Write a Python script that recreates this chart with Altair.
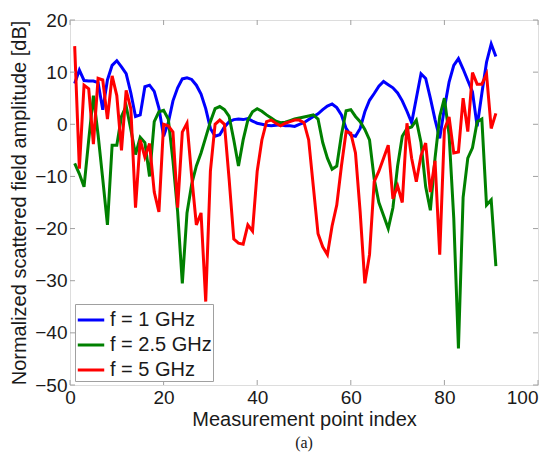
import altair as alt
import pandas as pd

idx = list(range(1, 92))

blue = [7.8, 10.4, 8.4, 8.3, 8.3, 8.0, 2.8, 8.5, 11.3, 12.2,
        11.0, 9.7, 6.0, 1.5, 1.8, 7.2, 7.5, 6.3, 3.1, -2.3,
        0.3, 4.5, 7.0, 8.7, 8.9, 8.6, 7.5, 5.8, 3.0, -0.8,
        -2.3, -2.0, -0.5, 0.5, 0.9, 1.0, 0.9, 1.1, 0.6, 0.2,
        0.0, -0.2, -0.3, -0.2, -0.1, -0.3, -0.3, -0.4, 0.0, 0.3,
        0.9, 1.5, 2.0, 2.8, 3.5, 3.9, 3.2, 1.8, -0.8, -2.1,
        -2.3, -0.8, 2.4, 4.6, 5.9, 7.3, 8.2, 7.6, 7.0, 6.0,
        4.5, 2.5, 0.3, 5.0, 9.7, 8.8, 5.0, 0.9, -2.7, 3.1,
        8.1, 11.3, 12.6, 10.6, 8.4, 6.2, -0.4, 5.9, 11.9, 15.4,
        13.0]

green = [-7.5, -9.5, -12.0, -3.0, 5.5, -2.0, -10.5, -19.3, -4.0, -4.0,
         1.5, 3.5, -1.0, -5.8, -2.5, -3.5, -10.0, 0.5, 2.4, 2.7,
         1.0, -7.0, -16.8, -30.5, -17.0, -11.5, -8.0, -5.5, -2.5, 0.5,
         3.0, 3.4, 2.8, 1.5, -3.0, -8.0, -3.0, 0.8, 2.4, 3.0,
         2.5, 1.8, 1.2, 0.6, 0.3, 0.4, 0.7, 1.0, 1.2, 1.4,
         1.6, 1.8, 1.0, -3.5, -6.5, -8.6, -8.0, -2.0, 2.6, 2.8,
         1.5, 0.5, -1.0, -3.0, -10.5, -15.0, -17.5, -20.0, -16.0, -8.0,
         -2.3, -0.8, -0.5, 0.8, -3.5, -12.0, -16.5, -6.5, 1.5, 5.0,
         -2.0, -18.0, -43.0, -14.0, -6.5, -4.5, 0.5, 1.0, -15.5, -14.5,
         -27.2]

red = [15.0, -8.5, 7.5, 6.8, -3.8, 8.8, 8.5, 1.0, 9.3, 5.5,
       -5.0, 6.5, 3.0, -16.0, -3.0, -6.3, -3.7, -13.0, -16.8, 0.0,
       -0.3, -1.5, -16.0, -1.5, 0.2, -10.0, -19.3, -17.0, -34.0, -9.0,
       0.0, 0.8, 0.0, -10.5, -22.0, -22.8, -23.0, -19.3, -20.5, -9.0,
       -3.0, 0.5, 0.8, 0.2, -0.3, 0.2, 0.5, 0.8, 0.8, 0.3,
       -3.0, -12.0, -21.0, -23.5, -25.0, -19.5, -15.5, -8.0, -1.4, -1.7,
       -5.5, -16.8, -30.5, -25.0, -11.0, -9.0, -6.5, -4.0, -14.3, -11.8,
       -15.0, 0.2, -6.5, -11.0, -6.0, -3.6, -13.0, -7.0, -25.0, -1.0,
       1.4, -5.5, -5.3, 5.0, -1.4, 9.9, 7.7, 7.7, 9.6, -0.8,
       2.1]

series_names = ["f = 1 GHz", "f = 2.5 GHz", "f = 5 GHz"]
series_colors = ["#0000ff", "#008000", "#ff0000"]
x_ticks = [0, 20, 40, 60, 80, 100]
y_ticks = [-50, -40, -30, -20, -10, 0, 10, 20]

W, H = 468, 365
FONT = "Liberation Sans"

rows = []
for name, vals in zip(series_names, [blue, green, red]):
    for i, v in zip(idx, vals):
        rows.append({"idx": i, "val": v, "series": name})
df = pd.DataFrame(rows)

xscale = alt.Scale(domain=[0, 100], nice=False, zero=False)
yscale = alt.Scale(domain=[-50, 20], nice=False, zero=False)

xaxis = alt.Axis(values=x_ticks, title="Measurement point index",
                 grid=False, ticks=False, domain=False,
                 labelFontSize=19, labelFont=FONT, labelColor="#1a1a1a",
                 labelPadding=3, titleFont=FONT, titleFontSize=20,
                 titleFontWeight="normal", titleColor="#1a1a1a",
                 titlePadding=2, labelFlush=False,
                 labelAlign={"condition": {"test": "datum.value === 100",
                                           "value": "right"},
                             "value": "center"})
yaxis = alt.Axis(values=y_ticks,
                 title="Normalized scattered field amplitude [dB]",
                 grid=False, ticks=False, domain=False,
                 labelFontSize=19, labelFont=FONT, labelColor="#1a1a1a",
                 labelPadding=3, titleFont=FONT, titleFontSize=20,
                 titleFontWeight="normal", titleColor="#1a1a1a",
                 titlePadding=5, labelFlush=False)

lines = alt.Chart(df).mark_line(strokeWidth=3, clip=True).encode(
    x=alt.X("idx:Q", scale=xscale, axis=xaxis),
    y=alt.Y("val:Q", scale=yscale, axis=yaxis),
    color=alt.Color("series:N",
                    scale=alt.Scale(domain=series_names, range=series_colors),
                    legend=alt.Legend(title=None, orient="none", legendX=5,
                                      legendY=284, strokeColor="#a0a0a0",
                                      fillColor="white", padding=1,
                                      symbolType="stroke", symbolStrokeWidth=3,
                                      symbolSize=700, labelFontSize=20,
                                      labelFont=FONT, labelColor="#1a1a1a",
                                      rowPadding=0, labelOffset=4,
                                      cornerRadius=0)),
    order=alt.Order("idx:Q"),
)

xt = pd.DataFrame({"t": x_ticks})
yt = pd.DataFrame({"t": y_ticks})
tick_color = "#a0a0a0"

xb = alt.Chart(xt).mark_rule(color=tick_color).encode(
    x=alt.X("t:Q", scale=xscale, axis=xaxis), y=alt.value(H), y2=alt.value(H - 5))
xtop = alt.Chart(xt).mark_rule(color=tick_color).encode(
    x=alt.X("t:Q", scale=xscale, axis=xaxis), y=alt.value(0), y2=alt.value(5))
yl = alt.Chart(yt).mark_rule(color=tick_color).encode(
    y=alt.Y("t:Q", scale=yscale, axis=yaxis), x=alt.value(0), x2=alt.value(5))
yr = alt.Chart(yt).mark_rule(color=tick_color).encode(
    y=alt.Y("t:Q", scale=yscale, axis=yaxis), x=alt.value(W), x2=alt.value(W - 5))

TOTAL_W, TOTAL_H = 542, 445
chart = alt.layer(lines, xb, xtop, yl, yr).properties(
    width=W, height=H,
    autosize="none",
    padding={"left": 62, "top": 12, "right": TOTAL_W - 62 - W,
             "bottom": TOTAL_H - 12 - H},
    title=alt.TitleParams("(a)", orient="bottom", font="Liberation Serif",
                          fontSize=16, fontWeight="normal", color="#1a1a1a",
                          offset=6),
).configure_view(stroke="#a0a0a0", strokeWidth=1).configure(background="white")

chart.save("out.html", embed_options={"renderer": "svg", "actions": False})
